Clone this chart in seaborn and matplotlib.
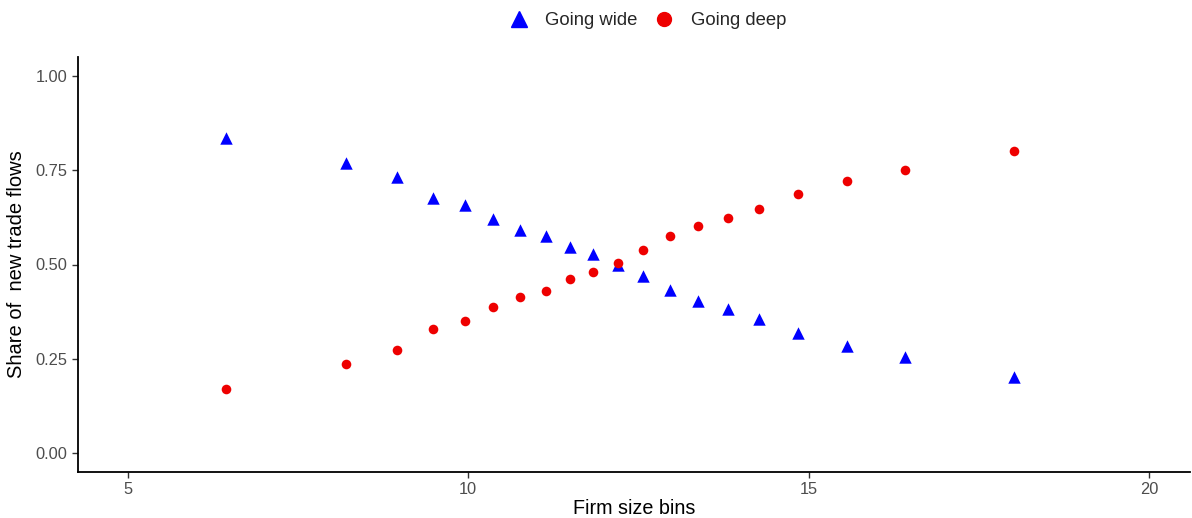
import numpy as np
import pandas as pd
import matplotlib
matplotlib.use("Agg")
import matplotlib.pyplot as plt
import seaborn as sns
from matplotlib.lines import Line2D

firm_size = [6.45, 8.20, 8.95, 9.49, 9.95, 10.37, 10.76, 11.14, 11.49, 11.84,
             12.20, 12.56, 12.96, 13.37, 13.81, 14.27, 14.84, 15.56, 16.41, 18.02]
going_wide = [0.835, 0.769, 0.732, 0.676, 0.658, 0.621, 0.592, 0.576, 0.546, 0.528,
              0.500, 0.469, 0.432, 0.403, 0.382, 0.355, 0.318, 0.284, 0.255, 0.202]
going_deep = [0.170, 0.236, 0.273, 0.329, 0.350, 0.387, 0.414, 0.430, 0.462, 0.480,
              0.504, 0.538, 0.576, 0.602, 0.623, 0.647, 0.687, 0.721, 0.751, 0.801]
series_names = ["Going wide", "Going deep"]
x_ticks = [5, 10, 15, 20]
y_ticks = [0.0, 0.25, 0.5, 0.75, 1.0]

df = pd.DataFrame({
    "size": firm_size * 2,
    "share": going_wide + going_deep,
    "type": [series_names[0]] * len(firm_size) + [series_names[1]] * len(firm_size),
})

sns.set_theme(style="white")
plt.rcParams["font.family"] = ["Liberation Sans", "DejaVu Sans"]

fig = plt.figure(figsize=(11.92, 5.18), dpi=100)
ax = fig.add_axes([78 / 1192, 1 - 472 / 518, (1190 - 78) / 1192, (472 - 57) / 518])

colors = {"Going wide": "#0000FF", "Going deep": "#EE0000"}
markers = {"Going wide": "^", "Going deep": "o"}
sizes_pt = {"Going wide": 80, "Going deep": 48}
for name in series_names:
    sub = df[df["type"] == name]
    sns.scatterplot(data=sub, x="size", y="share", ax=ax, color=colors[name],
                    marker=markers[name], s=sizes_pt[name], linewidth=0, legend=False)

ax.set_xlim(4.27, 20.6)
ax.set_ylim(-0.05, 1.05)
ax.set_xticks(x_ticks)
ax.set_xticklabels([str(t) for t in x_ticks])
ax.set_yticks(y_ticks)
ax.set_yticklabels([f"{t:.2f}" for t in y_ticks])
ax.tick_params(axis="both", length=4, width=1, color="#333333", labelsize=11.8,
               labelcolor="#4D4D4D", pad=3.5, direction="out")
ax.tick_params(axis="both", which="both", bottom=True, left=True)
for side in ["top", "right"]:
    ax.spines[side].set_visible(False)
for side in ["left", "bottom"]:
    ax.spines[side].set_color("black")
    ax.spines[side].set_linewidth(1.3)
ax.set_xlabel("Firm size bins", fontsize=14.2, color="black", labelpad=1.5)
ax.set_ylabel("Share of  new trade flows", fontsize=14.5, color="black", labelpad=7)
ax.grid(False)

handles = [
    Line2D([], [], linestyle="none", marker="^", color=colors["Going wide"], markersize=12),
    Line2D([], [], linestyle="none", marker="o", color=colors["Going deep"], markersize=10),
]
fig.legend(handles, series_names, loc="upper center", bbox_to_anchor=(0.5436, 1.0),
           ncol=2, frameon=False, fontsize=13.3, handlelength=1.0, handletextpad=0.92,
           columnspacing=0.95, borderaxespad=0.25)

fig.savefig("out.png", dpi=100, facecolor="white")
